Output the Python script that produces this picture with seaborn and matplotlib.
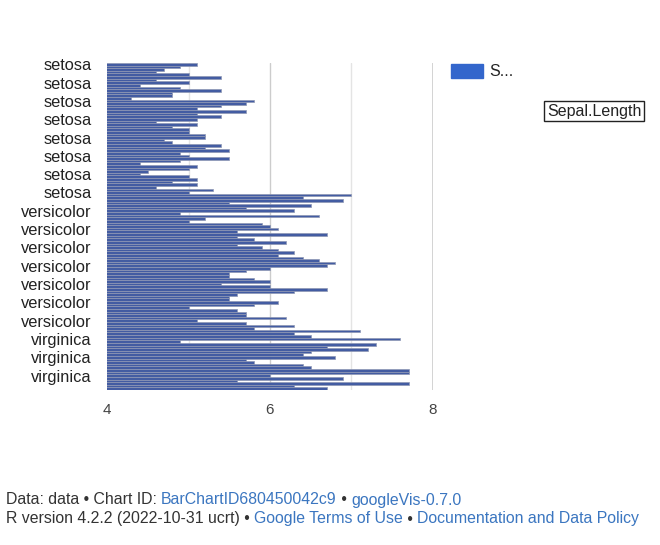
import seaborn as sns
import pandas as pd
import matplotlib.pyplot as plt

# Sepal.Length values visible in the chart (rows 1-125, the rest is cut off)
setosa = [5.1, 4.9, 4.7, 4.6, 5.0, 5.4, 4.6, 5.0, 4.4, 4.9, 5.4, 4.8, 4.8, 4.3, 5.8, 5.7, 5.4,
          5.1, 5.7, 5.1, 5.4, 5.1, 4.6, 5.1, 4.8, 5.0, 5.0, 5.2, 5.2, 4.7, 4.8, 5.4, 5.2, 5.5,
          4.9, 5.0, 5.5, 4.9, 4.4, 5.1, 5.0, 4.5, 4.4, 5.0, 5.1, 4.8, 5.1, 4.6, 5.3, 5.0]
versicolor = [7.0, 6.4, 6.9, 5.5, 6.5, 5.7, 6.3, 4.9, 6.6, 5.2, 5.0, 5.9, 6.0, 6.1, 5.6, 6.7,
              5.6, 5.8, 6.2, 5.6, 5.9, 6.1, 6.3, 6.1, 6.4, 6.6, 6.8, 6.7, 6.0, 5.7, 5.5, 5.5,
              5.8, 6.0, 5.4, 6.0, 6.7, 6.3, 5.6, 5.5, 5.5, 6.1, 5.8, 5.0, 5.6, 5.7, 5.7, 6.2,
              5.1, 5.7]
virginica = [6.3, 5.8, 7.1, 6.3, 6.5, 7.6, 4.9, 7.3, 6.7, 7.2, 6.5, 6.4, 6.8, 5.7, 5.8, 6.4,
             6.5, 7.7, 7.7, 6.0, 6.9, 5.6, 7.7, 6.3, 6.7]

species = ['setosa'] * len(setosa) + ['versicolor'] * len(versicolor) + ['virginica'] * len(virginica)
values = setosa + versicolor + virginica
x_ticks = [4, 6, 8]

df = pd.DataFrame({'row': [str(i) for i in range(len(values))],
                   'Species': species, 'Sepal.Length': values})

sns.set_style('white')
plt.rcParams['font.family'] = ['Liberation Sans', 'DejaVu Sans']

fig = plt.figure(figsize=(6.6, 5.45), dpi=100)
ax = fig.add_axes([107 / 660, 1 - 390 / 545, 326 / 660, 327 / 545])

ax.axvline(5, color='#e4e4e4', lw=1, zorder=0)
ax.axvline(6, color='#cccccc', lw=1, zorder=0)
ax.axvline(7, color='#e4e4e4', lw=1, zorder=0)
ax.axvline(8, color='#cccccc', lw=1.2, zorder=0)

sns.barplot(data=df, x='Sepal.Length', y='row', orient='h', color='#435ca2',
            width=1.0, edgecolor='#8f98b4', linewidth=0.5, saturation=1, ax=ax, zorder=2)

ax.set_xlim(4, 8)
ax.set_ylim(len(values) - 0.5, -0.5)
ax.set_xticks(x_ticks)
ax.set_xticklabels([str(t) for t in x_ticks], fontsize=11, color='#444444')
lbl_rows = list(range(0, len(values), 7))
ax.set_yticks(lbl_rows)
ax.set_yticklabels([species[i] for i in lbl_rows], fontsize=11.8, color='#222222')
ax.tick_params(axis='both', length=0)
ax.tick_params(axis='x', pad=9)
ax.tick_params(axis='y', pad=11)
ax.set_xlabel('')
ax.set_ylabel('')
for s in ax.spines.values():
    s.set_visible(False)

# legend swatch and truncated label
fig.patches.append(plt.Rectangle((451 / 660, 1 - 78 / 545), 32 / 660, 14 / 545,
                                 transform=fig.transFigure, color='#3366cc'))
fig.text(489 / 660, 1 - 71 / 545, 'S...', fontsize=11.5, color='#222222', va='center')
fig.text(594 / 660, 1 - 111 / 545, 'Sepal.Length', fontsize=11.5, color='#222222',
         va='center', ha='center',
         bbox=dict(boxstyle='square,pad=0.15', fc='white', ec='#222222', lw=1))

# footer
grey = '#333333'
link = '#3b76c0'
y1 = 1 - 500 / 545
y2 = 1 - 519 / 545
parts1 = [('Data: data \u2022 Chart ID: ', grey), ('BarChartID680450042c9', link),
          (' \u2022 ', grey), ('googleVis-0.7.0', link)]
parts2 = [('R version 4.2.2 (2022-10-31 ucrt) \u2022 ', grey), ('Google Terms of Use', link),
          (' \u2022 ', grey), ('Documentation and Data Policy', link)]
fig.canvas.draw()
r = fig.canvas.get_renderer()
for parts, yy in [(parts1, y1), (parts2, y2)]:
    x = 6 / 660
    for txt, c in parts:
        t = fig.text(x, yy, txt, fontsize=11.4, color=c, va='center')
        bb = t.get_window_extent(renderer=r)
        x += bb.width / fig.bbox.width

fig.savefig('out.png', dpi=100)
